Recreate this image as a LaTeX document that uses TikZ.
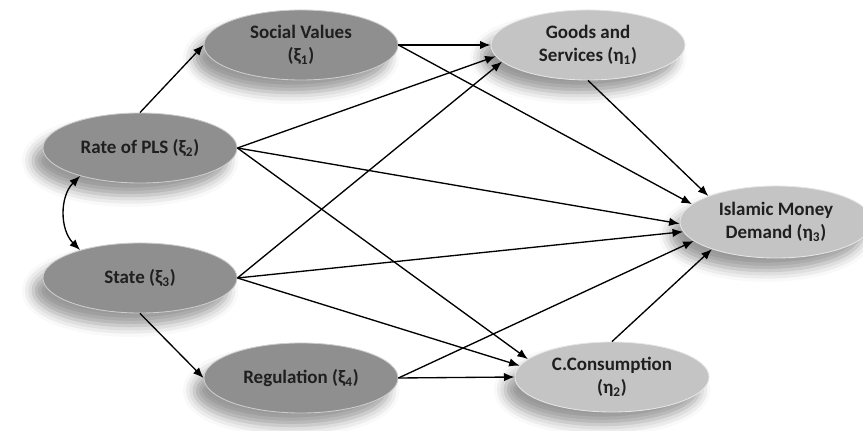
\documentclass[tikz,border=0pt]{standalone}
\usepackage{fontspec}
\setmainfont{Carlito}
\usepackage{xcolor}
\usetikzlibrary{shapes.geometric,shadows.blur,arrows.meta}

\definecolor{exofill}{gray}{0.56}
\definecolor{endofill}{gray}{0.77}

\tikzset{
	latent/.style={ellipse, minimum width=4.85cm, minimum height=1.75cm, inner sep=0pt,
		align=center, text=black!88, font=\fontsize{13.5}{16.5}\selectfont\bfseries,
		blur shadow={shadow xshift=-7pt, shadow yshift=-9pt, shadow blur radius=8pt, shadow opacity=40}},
	exo/.style={latent, fill=exofill, draw=exofill!45!white, line width=0.6pt},
	endo/.style={latent, fill=endofill, draw=endofill!45!white, line width=0.6pt},
	conn/.style={draw=black, -{Latex[length=7.5pt,width=6pt]}, line width=0.95pt, solid}
}

\begin{document}
\begin{tikzpicture}[x=0.025cm, y=-0.025cm]
	\useasboundingbox (0,0) rectangle (863,431);
	\clip (0,0) rectangle (863,431);
	\node[exo] (sv) at (301,45) {Social Values\\(ξ\textsubscript{1})};
	\node[exo] (pls) at (140,148) {Rate of PLS (ξ\textsubscript{2})};
	\node[exo] (state) at (140,278) {State (ξ\textsubscript{3})};
	\node[exo] (reg) at (301,378) {Regulation (ξ\textsubscript{4})};
	\node[endo] (gs) at (588,45) {Goods and\\Services (η\textsubscript{1})};
	\node[endo] (cc) at (612,377) {C.Consumption\\(η\textsubscript{2})};
	\node[endo, minimum width=4.8cm, minimum height=1.8cm] (imd) at (776,222) {Islamic Money\\Demand (η\textsubscript{3})};
	\draw[conn] (pls.north) -- (sv.west);
	\draw[conn] (sv.east) -- (gs.west);
	\draw[conn] (sv.east) -- (imd.168);
	\draw[conn] (pls.east) -- (gs.187);
	\draw[conn] (pls.east) -- (imd.181);
	\draw[conn] (pls.east) -- (cc.168);
	\draw[conn] (state.east) -- (gs.191);
	\draw[conn] (state.east) -- (imd.186);
	\draw[conn] (state.east) -- (cc.173);
	\draw[conn] (state.south) -- (reg.west);
	\draw[conn] (reg.east) -- (cc.west);
	\draw[conn] (reg.east) -- (imd.193);
	\draw[conn] (gs.south) -- (imd.159);
	\draw[conn] (cc.north) -- (imd.203);
	\draw[conn, {Latex[length=7.5pt,width=6pt]}-{Latex[length=7.5pt,width=6pt]}] (pls.205) to[bend right=45] (state.155);
\end{tikzpicture}
\end{document}
